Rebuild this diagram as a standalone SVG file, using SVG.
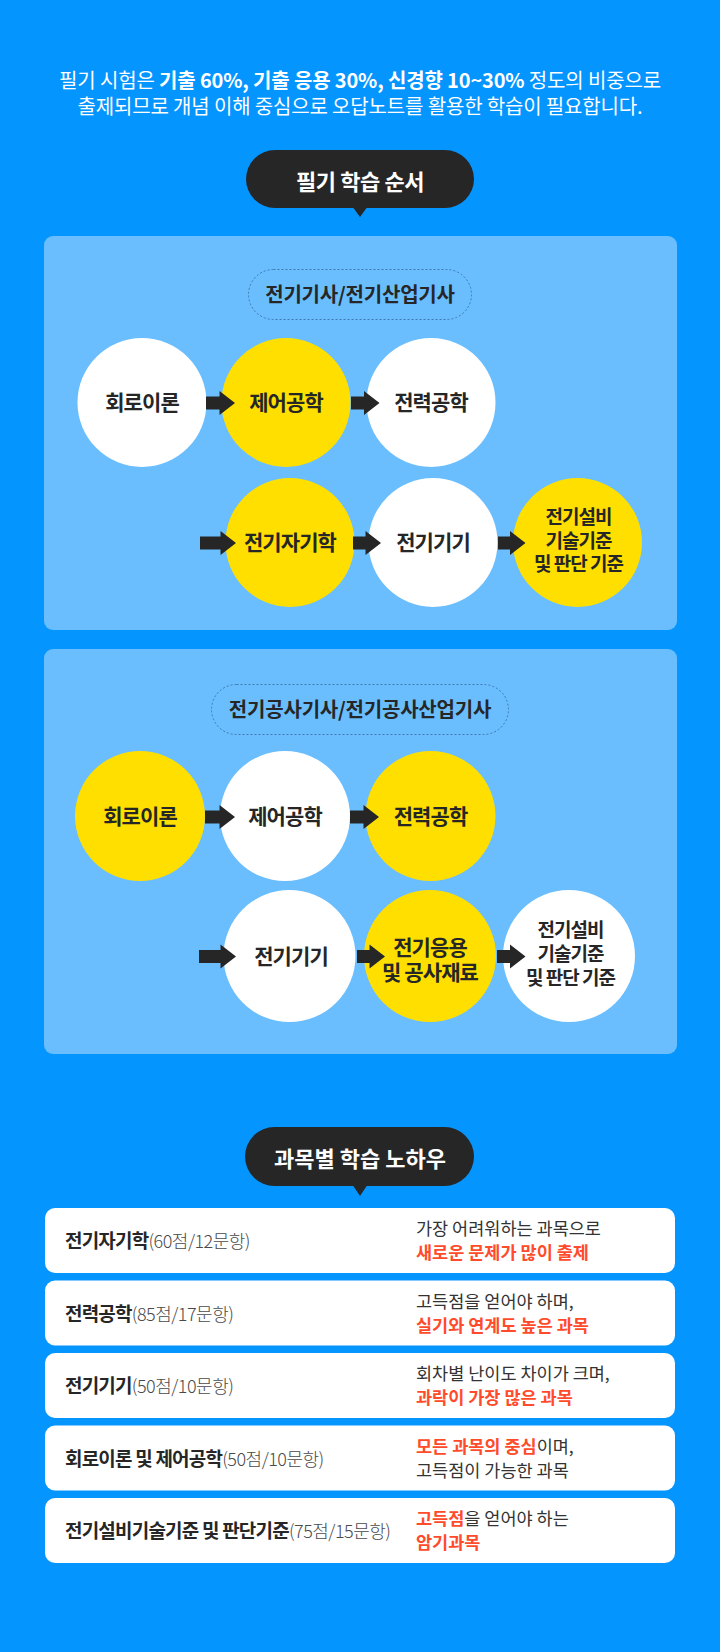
<svg xmlns="http://www.w3.org/2000/svg" width="720" height="1652" viewBox="0 0 720 1652">
<style>
text{font-family:'Noto Sans CJK KR','Noto Sans',sans-serif;}
.intro{font-size:20px;fill:#ffffff;letter-spacing:-0.15px;font-weight:400;}
.b{font-weight:700;}
.title{font-size:22px;font-weight:700;fill:#ffffff;text-anchor:middle;}
.pill{fill:#262626;}
.panel{fill:#6abefe;}
.badge{fill:none;stroke:#3d79b0;stroke-width:1;stroke-dasharray:2 2;}
.badgeText{font-size:20px;font-weight:700;fill:#262626;text-anchor:middle;letter-spacing:-0.2px;}
.w{fill:#ffffff;}
.y{fill:#ffdf00;}
.ct{font-size:21px;font-weight:700;fill:#262626;text-anchor:middle;letter-spacing:-0.9px;}
.ct3{font-size:19px;font-weight:700;fill:#262626;text-anchor:middle;letter-spacing:-1px;}
.arrow{fill:#262626;}
.row{fill:#ffffff;}
.subj{font-size:19px;font-weight:700;fill:#262626;letter-spacing:-0.8px;}
.pts{font-size:18px;font-weight:300;fill:#4a4a4a;letter-spacing:-0.5px;}
.desc{font-size:17.5px;font-weight:400;fill:#333333;letter-spacing:0px;}
.red{fill:#ff4b2b;font-weight:700;}
</style>
<rect x="0" y="0" width="720" height="1652" fill="#0495ff"/>

<g id="intro">
<text class="intro" x="360" y="88" text-anchor="middle">필기 시험은 <tspan class="b">기출 60%, 기출 응용 30%, 신경향 10~30%</tspan> 정도의 비중으로</text>
<text class="intro" x="360" y="114" text-anchor="middle">출제되므로 개념 이해 중심으로 오답노트를 활용한 학습이 필요합니다.</text>
</g>

<g id="title1">
<rect class="pill" x="246" y="150" width="228" height="58" rx="29"/>
<polygon class="pill" points="352,206 368,206 360,217"/>
<text class="title" x="360" y="190" letter-spacing="-0.4">필기 학습 순서</text>
</g>

<g id="panel1">
<rect class="panel" x="44" y="236" width="633" height="394" rx="9"/>
<rect class="badge" x="248.5" y="269.5" width="223" height="50" rx="25"/>
<text class="badgeText" x="360" y="302">전기기사/전기산업기사</text>
</g>

<g id="p1-n1"><circle class="w" cx="142" cy="402.5" r="64.5"/><text class="ct" x="142" y="410">회로이론</text></g>
<g id="p1-n2"><circle class="y" cx="286" cy="402.5" r="64.5"/><text class="ct" x="286" y="410">제어공학</text></g>
<g id="p1-n3"><circle class="w" cx="431" cy="402.5" r="64.5"/><text class="ct" x="431" y="410">전력공학</text></g>
<g id="p1-n4"><circle class="y" cx="290" cy="542.5" r="64.5"/><text class="ct" x="290" y="550">전기자기학</text></g>
<g id="p1-n5"><circle class="w" cx="433" cy="542.5" r="64.5"/><text class="ct" x="433" y="550">전기기기</text></g>
<g id="p1-n6"><circle class="y" cx="577.5" cy="542.5" r="64.5"/><text class="ct3" x="578.5" y="524">전기설비</text><text class="ct3" x="578.5" y="547.5">기술기준</text><text class="ct3" x="578.5" y="571">및 판단 기준</text></g>

<g id="panel2">
<rect class="panel" x="44" y="649" width="633" height="405" rx="9"/>
<rect class="badge" x="211.5" y="684.5" width="297" height="50" rx="25"/>
<text class="badgeText" x="360" y="717">전기공사기사/전기공사산업기사</text>
</g>

<g id="p2-n1"><circle class="y" cx="140" cy="816" r="65"/><text class="ct" x="140" y="823.5">회로이론</text></g>
<g id="p2-n2"><circle class="w" cx="285" cy="816" r="65"/><text class="ct" x="285" y="823.5">제어공학</text></g>
<g id="p2-n3"><circle class="y" cx="430.5" cy="816" r="65"/><text class="ct" x="430.5" y="823.5">전력공학</text></g>
<g id="p2-n4"><circle class="w" cx="289.5" cy="956" r="66"/><text class="ct" x="291" y="963.5">전기기기</text></g>
<g id="p2-n5"><circle class="y" cx="430" cy="956" r="66"/><text class="ct" x="430" y="955">전기응용</text><text class="ct" x="430" y="980">및 공사재료</text></g>
<g id="p2-n6"><circle class="w" cx="569" cy="956" r="66"/><text class="ct3" x="570.5" y="936.5">전기설비</text><text class="ct3" x="570.5" y="960.5">기술기준</text><text class="ct3" x="570.5" y="985">및 판단 기준</text></g>

<g id="connectors">
<polygon class="arrow" points="206,396.5 219.5,396.5 219.5,391 235,403 219.5,415 219.5,409.5 206,409.5"/>
<polygon class="arrow" points="351,396.5 364,396.5 364,391 379.5,403 364,415 364,409.5 351,409.5"/>
<polygon class="arrow" points="200,536.5 220.5,536.5 220.5,531 236,543 220.5,555 220.5,549.5 200,549.5"/>
<polygon class="arrow" points="353,536.5 365.5,536.5 365.5,531 381,543 365.5,555 365.5,549.5 353,549.5"/>
<polygon class="arrow" points="498,536.5 510,536.5 510,531 525.5,543 510,555 510,549.5 498,549.5"/>
<polygon class="arrow" points="205,810.5 219.5,810.5 219.5,805 235,817 219.5,829 219.5,823.5 205,823.5"/>
<polygon class="arrow" points="350,810.5 363.5,810.5 363.5,805 379,817 363.5,829 363.5,823.5 350,823.5"/>
<polygon class="arrow" points="199,950 220.5,950 220.5,944.5 236,956.5 220.5,968.5 220.5,963 199,963"/>
<polygon class="arrow" points="357,950 369.5,950 369.5,944.5 385,956.5 369.5,968.5 369.5,963 357,963"/>
<polygon class="arrow" points="497,950 510,950 510,944.5 525.5,956.5 510,968.5 510,963 497,963"/>
</g>

<g id="title2">
<rect class="pill" x="245" y="1127" width="229" height="59" rx="29.5"/>
<polygon class="pill" points="352,1184 368,1184 360,1196"/>
<text class="title" x="360" y="1167">과목별 학습 노하우</text>
</g>

<g id="row1">
<rect class="row" x="45" y="1208" width="630" height="65" rx="10"/>
<text class="subj" x="65" y="1248">전기자기학<tspan class="pts">(60점/12문항)</tspan></text>
<text class="desc" x="416" y="1235">가장 어려워하는 과목으로</text>
<text class="desc" x="416" y="1259"><tspan class="red">새로운 문제가 많이 출제</tspan></text>
</g>
<g id="row2">
<rect class="row" x="45" y="1280.5" width="630" height="65" rx="10"/>
<text class="subj" x="65" y="1320.5">전력공학<tspan class="pts">(85점/17문항)</tspan></text>
<text class="desc" x="416" y="1307.5">고득점을 얻어야 하며,</text>
<text class="desc" x="416" y="1331.5"><tspan class="red">실기와 연계도 높은 과목</tspan></text>
</g>
<g id="row3">
<rect class="row" x="45" y="1353" width="630" height="65" rx="10"/>
<text class="subj" x="65" y="1393">전기기기<tspan class="pts">(50점/10문항)</tspan></text>
<text class="desc" x="416" y="1380">회차별 난이도 차이가 크며,</text>
<text class="desc" x="416" y="1404"><tspan class="red">과락이 가장 많은 과목</tspan></text>
</g>
<g id="row4">
<rect class="row" x="45" y="1425.5" width="630" height="65" rx="10"/>
<text class="subj" x="65" y="1465.5">회로이론 및 제어공학<tspan class="pts">(50점/10문항)</tspan></text>
<text class="desc" x="416" y="1452.5"><tspan class="red">모든 과목의 중심</tspan>이며,</text>
<text class="desc" x="416" y="1476.5">고득점이 가능한 과목</text>
</g>
<g id="row5">
<rect class="row" x="45" y="1498" width="630" height="65" rx="10"/>
<text class="subj" x="65" y="1538">전기설비기술기준 및 판단기준<tspan class="pts">(75점/15문항)</tspan></text>
<text class="desc" x="416" y="1525"><tspan class="red">고득점</tspan>을 얻어야 하는</text>
<text class="desc" x="416" y="1549"><tspan class="red">암기과목</tspan></text>
</g>
</svg>
